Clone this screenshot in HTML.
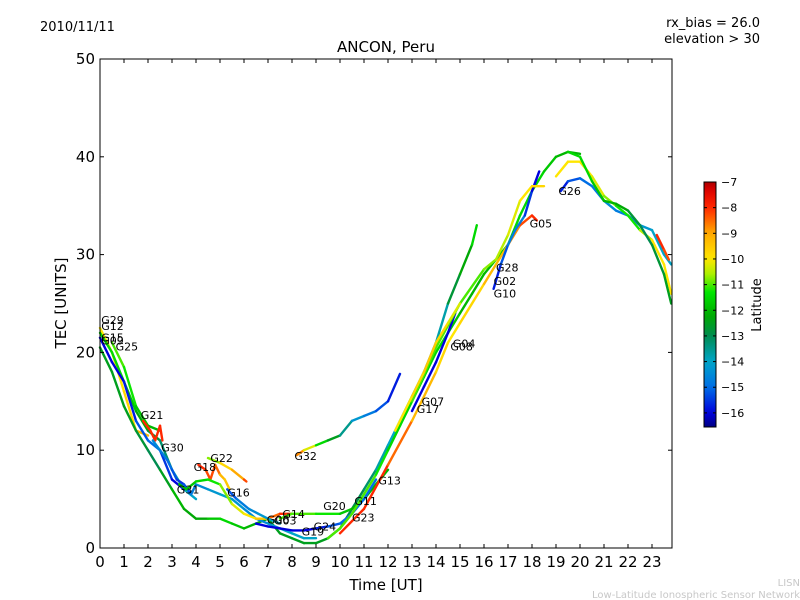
<!DOCTYPE html>
<html><head><meta charset="utf-8"><style>
body{margin:0;background:#fff;}
svg{display:block;font-family:"DejaVu Sans","Liberation Sans",sans-serif;}
</style></head><body>
<svg id="c" width="800" height="600" xmlns="http://www.w3.org/2000/svg">
<rect width="800" height="600" fill="#fff"/>
<text x="40" y="31" font-size="13">2010/11/11</text>
<text x="760" y="27" font-size="13" text-anchor="end">rx_bias = 26.0</text>
<text x="760" y="43" font-size="13" text-anchor="end">elevation &gt; 30</text>
<text x="386" y="52" font-size="15" text-anchor="middle">ANCON, Peru</text>
<text x="386" y="590" font-size="15" text-anchor="middle">Time [UT]</text>
<text transform="translate(66,303) rotate(-90)" font-size="15" text-anchor="middle">TEC [UNITS]</text>
<text x="800" y="586" font-size="10" fill="#c8c8c8" text-anchor="end">LISN</text>
<text x="800" y="598" font-size="10" fill="#c8c8c8" text-anchor="end">Low-Latitude Ionospheric Sensor Network</text>
<g id="marks"></g>
<g id="axes"></g>
<g id="cbar"></g>
</svg>
<script>
const xTicks=[0,1,2,3,4,5,6,7,8,9,10,11,12,13,14,15,16,17,18,19,20,21,22,23];
const yTicks=[0,10,20,30,40,50];
const cbTicks=[-7,-8,-9,-10,-11,-12,-13,-14,-15,-16];
const tr1T=[0,0.5,1,1.5,2];const tr1V=[22.5,20,16,12,11.5];const tr1L=[-10,-10,-10,-9.5,-9];
const tr2T=[0,0.5,1,1.5,2,2.5,3,3.5,4];const tr2V=[22,20,17,14,12,11,8,6,5];const tr2L=[-11.5,-11.5,-11.5,-12,-12.5,-13,-13.5,-14,-14];
const tr3T=[0.5,1,1.5,2,2.5];const tr3V=[21,18.5,14.5,12.5,12];const tr3L=[-11,-11,-11.5,-12,-12];
const tr4T=[0,0.5,1,1.5,2,2.5,3,3.5];const tr4V=[21.5,19,17,13,11,10,7,6];const tr4L=[-16,-16,-16,-15.5,-15,-15,-16,-16];
const tr5T=[0,0.5,1,1.5,2,2.5,3,3.5,4,4.5,5,5.5,6,6.5,7,7.5,8,8.5,9,9.5,10,10.5,11,11.5,12,12.5,13,13.5,14,14.5,15,15.5,15.7];
const tr5V=[20.5,18,14.5,12,10,8,6,4,3,3,3,2.5,2,2.5,3,1.5,1,0.5,0.5,1,2,4,6,8,10.5,13,15.5,18,21,25,28,31,33];
const tr5L=[-12.5,-12.5,-12.5,-12.5,-13,-13,-12,-12,-12.5,-12,-11.5,-11.5,-12,-12,-12.5,-12.5,-12.5,-12.5,-12.5,-12.5,-13,-13,-13,-13.5,-14,-14,-14.5,-14.5,-14.5,-13,-12.5,-12,-11];
const tr6T=[1.8,2.1,2.3,2.5,2.6];const tr6V=[13,12,11,12.5,11];const tr6L=[-8,-8,-8,-8,-8];
const tr7T=[2.2,2.5,2.8,3,3.2,3.5,3.8,4,4.5,5,5.5,6,6.5,7,7.5,8,8.5,9];const tr7V=[11,10,9,8,7,6.5,5.5,6.5,6,5.5,5,4,3,2.5,2,1.5,1,1];const tr7L=[-14.5,-14.5,-15,-15,-15.5,-15.5,-15,-14.5,-14.5,-14,-14,-14.5,-14.5,-14.5,-14,-14,-14,-14];
const tr8T=[4.1,4.4,4.6,4.8,5,5.2,5.4];const tr8V=[8.5,8,7,8.5,7.5,7,6];const tr8L=[-8,-8,-8.5,-8,-9,-9.5,-9.5];
const tr9T=[4.5,5,5.5,6,6.1];const tr9V=[9.2,8.7,8,7,6.8];const tr9L=[-11.5,-10,-9.5,-8.5,-8];
const tr10T=[3.3,3.6,4,4.5,5,5.5,6,6.5,7,7.5,8];const tr10V=[6.5,6,6.8,7,6.5,4.5,3.5,3,3,3.5,3.5];const tr10L=[-12,-12,-11.5,-11.5,-11,-10.5,-10,-10,-9,-8,-8];
const tr11T=[5.3,5.7,6.2,6.6,7,7.5];const tr11V=[6,5,4,3.5,3,2.5];const tr11L=[-15.5,-15,-14.5,-14.5,-14,-14];
const tr12T=[7.5,8,9,10,10.5,11,11.5,12];const tr12V=[3,3.5,3.5,3.5,4,5,6.5,8];const tr12L=[-11,-11,-11,-11.5,-12,-12,-12,-12];
const tr13T=[6.5,7,7.5,8,8.5,9,9.5,10,10.5,11,11.5];const tr13V=[2.5,2.2,2,1.8,1.8,2,2.2,2.5,3.5,5,7];const tr13L=[-16,-16,-16,-16,-16,-16,-15.5,-15,-15,-15,-15];
const tr14T=[8.2,8.5,9,9.5,10,10.5,11,11.5,12,12.5];const tr14V=[9.5,10,10.5,11,11.5,13,13.5,14,15,17.8];const tr14L=[-8,-9.5,-11,-12,-13,-14,-14.5,-15,-15.5,-16];
const tr15T=[9.5,10,10.5,11,11.5,12,12.5,13,13.5,14,14.5,15,15.5,16,16.5,17,17.5,18,18.5,19,19.5,20];
const tr15V=[1,2,3.5,5.5,7.5,10,12.5,15,17.5,20,22,24,26,28,29.5,31,34,36.5,38.5,40,40.5,40.3];
const tr15L=[-11,-11,-11,-11,-11,-11.5,-11.5,-11.5,-11.5,-11.5,-11.5,-12,-12,-12,-12,-11.5,-11.5,-11.5,-11.5,-12,-12,-12];
const tr16T=[10,11,12,13,14,14.5,15,16,17,17.5,18,18.2];const tr16V=[1.5,4,8.5,13,18,21,23,27,31,33,34,33.5];const tr16L=[-8,-8,-8,-9,-9.5,-10,-10,-9.5,-9,-8.5,-8,-8];
const tr17T=[13,13.5,14,14.5,14.8];const tr17V=[14,16.5,19,22,24];const tr17L=[-16,-16,-16,-16,-16];
const tr18T=[16.4,16.7,17,17.3,17.7,18,18.3];const tr18V=[26.5,29,31,32.5,34,36.5,38.5];const tr18L=[-16,-15.5,-15,-14.5,-15,-16,-16];
const tr19T=[13,14,15,16,16.5,17,17.5,18,18.5];const tr19V=[15,20.5,25,28.5,29.5,32,35.5,37,37];const tr19L=[-11,-11,-11,-11,-10.5,-10.5,-10,-10,-9.5];
const tr20T=[12.3,13,13.5,14,14.5,15];const tr20V=[12,15.5,18,21,23,25];const tr20L=[-10,-10,-9.5,-9.5,-10,-10.5];
const tr21T=[19.2,19.5,20,20.5,21,21.5,22,22.5,23,23.5,23.8];const tr21V=[36.5,37.5,37.8,37,35.5,34.5,34,33,32.5,30,29];const tr21L=[-16,-15.5,-15,-15,-14.5,-14.5,-15,-14.5,-14,-14,-14];
const tr22T=[19,19.5,20,20.5,21,21.5,22,22.5,23,23.5,23.8];const tr22V=[38,39.5,39.5,38,36,35,34,32.5,31.5,29,26];const tr22L=[-10,-10,-10,-10,-10.5,-11,-11.5,-11,-10,-10,-10];
const tr23T=[19.5,20,20.5,21,21.5,22,22.5,23,23.5,23.8];const tr23V=[40.5,40,37.5,35.5,35.2,34.5,33,31,28,25];const tr23L=[-11.5,-11.5,-11.5,-12,-12,-12.5,-13,-13,-12.5,-12.5];
const tr24T=[23.2,23.5,23.7];const tr24V=[32,30.5,29.5];const tr24L=[-8,-8,-8.5];
const traces=[[tr1T,tr1V,tr1L],[tr2T,tr2V,tr2L],[tr3T,tr3V,tr3L],[tr4T,tr4V,tr4L],[tr5T,tr5V,tr5L],[tr6T,tr6V,tr6L],[tr7T,tr7V,tr7L],[tr8T,tr8V,tr8L],[tr9T,tr9V,tr9L],[tr10T,tr10V,tr10L],[tr11T,tr11V,tr11L],[tr12T,tr12V,tr12L],[tr13T,tr13V,tr13L],[tr14T,tr14V,tr14L],[tr15T,tr15V,tr15L],[tr16T,tr16V,tr16L],[tr17T,tr17V,tr17L],[tr18T,tr18V,tr18L],[tr19T,tr19V,tr19L],[tr20T,tr20V,tr20L],[tr21T,tr21V,tr21L],[tr22T,tr22V,tr22L],[tr23T,tr23V,tr23L],[tr24T,tr24V,tr24L]];
const labelNames=["G29","G12","G15","G09","G25","G21","G30","G18","G22","G31","G16","G06","G03","G14","G19","G24","G20","G11","G23","G13","G32","G07","G17","G04","G08","G10","G02","G28","G05","G26"];
const labelT=[0.05,0.05,0.05,0.05,0.65,1.7,2.55,3.9,4.6,3.2,5.3,6.95,7.25,7.6,8.4,8.9,9.3,10.6,10.5,11.6,8.1,13.4,13.2,14.7,14.6,16.4,16.4,16.5,17.9,19.1];
const labelV=[23.3,22.7,21.5,21.2,20.6,13.6,10.3,8.3,9.2,6.0,5.7,2.9,2.8,3.5,1.7,2.2,4.3,4.8,3.1,6.9,9.4,15.0,14.2,20.9,20.6,26.0,27.3,28.7,33.2,36.5];

const X0=100,X1=672,Y0=548,Y1=59;
const sx=t=>X0+t*24, sy=v=>Y0-(v/50)*(Y0-Y1);
const LMIN=-16.55,LMAX=-7;
const cmapL=[-16.55,-16,-15,-14,-13,-12.2,-11.3,-10.6,-10,-9,-8,-7.3,-7];
const cmapC=[[0,0,130],[0,0,220],[0,110,230],[0,165,200],[0,140,80],[0,170,0],[0,230,0],[170,240,0],[255,230,0],[255,170,0],[255,40,0],[220,0,0],[170,0,0]];
function latColor(l){l=Math.max(LMIN,Math.min(LMAX,l));let i=0;while(i<cmapL.length-2&&l>cmapL[i+1])i++;
 const f=(l-cmapL[i])/(cmapL[i+1]-cmapL[i]);const a=cmapC[i],b=cmapC[i+1];
 return `rgb(${Math.round(a[0]+(b[0]-a[0])*f)},${Math.round(a[1]+(b[1]-a[1])*f)},${Math.round(a[2]+(b[2]-a[2])*f)})`;}
const NS="http://www.w3.org/2000/svg";
function mk(tag,attrs,parent){const e=document.createElementNS(NS,tag);for(const k in attrs)e.setAttribute(k,attrs[k]);parent.appendChild(e);return e;}
const marks=document.getElementById('marks');
traces.forEach((tr,ti)=>{const [T,V,L]=tr;
 for(let i=0;i<T.length-1;i++){
  const s=mk('line',{x1:sx(T[i]),y1:sy(V[i]),x2:sx(T[i+1]),y2:sy(V[i+1]),stroke:latColor((L[i]+L[i+1])/2),'stroke-width':2.4,'stroke-linecap':'round'},marks);
  
  
 }});
labelNames.forEach((n,i)=>{const t=mk('text',{x:sx(labelT[i]),y:sy(labelV[i])+4,'font-size':11},marks);t.textContent=n;
 
 });
const axes=document.getElementById('axes');
const fr=mk('rect',{x:X0,y:Y1,width:X1-X0,height:Y0-Y1,fill:'none',stroke:'#000','stroke-width':1},axes);


xTicks.forEach(t=>{const x=sx(t);mk('line',{x1:x,y1:Y0,x2:x,y2:Y0-4,stroke:'#000'},axes);mk('line',{x1:x,y1:Y1,x2:x,y2:Y1+4,stroke:'#000'},axes);
 const l=mk('text',{x:x,y:Y0+19,'font-size':15,'text-anchor':'middle'},axes);l.textContent=t;
 
 });
yTicks.forEach(v=>{const y=sy(v);mk('line',{x1:X0,y1:y,x2:X0+4,y2:y,stroke:'#000'},axes);mk('line',{x1:X1,y1:y,x2:X1-4,y2:y,stroke:'#000'},axes);
 const l=mk('text',{x:X0-5,y:y+5,'font-size':15,'text-anchor':'end'},axes);l.textContent=v;
 
 });
const cb=document.getElementById('cbar');const CX=704,CW=12,CT=182,CB=427;
const cy=l=>CT+(LMAX-l)/(LMAX-LMIN)*(CB-CT);
const defs=mk('defs',{},cb);const g=mk('linearGradient',{id:'jg',x1:0,y1:1,x2:0,y2:0},defs);
for(let i=0;i<=40;i++)mk('stop',{offset:i/40,'stop-color':latColor(LMIN+(LMAX-LMIN)*i/40)},g);
const cr=mk('rect',{x:CX,y:CT,width:CW,height:CB-CT,fill:'url(#jg)',stroke:'#000'},cb);


cbTicks.forEach(l=>{const y=cy(l);mk('line',{x1:CX,y1:y,x2:CX+3,y2:y,stroke:'#000'},cb);mk('line',{x1:CX+CW,y1:y,x2:CX+CW-3,y2:y,stroke:'#000'},cb);
 const t=mk('text',{x:CX+CW+5,y:y+4,'font-size':11},cb);t.textContent='\u2212'+Math.abs(l);
 
 });
const ct=mk('text',{transform:'translate(761,305) rotate(-90)','font-size':13,'text-anchor':'middle'},cb);ct.textContent='Latitude';


</script>
</body></html>
